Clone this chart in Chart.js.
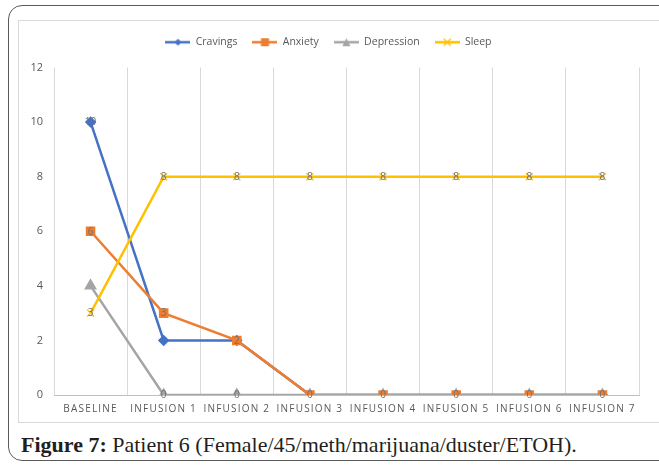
<!DOCTYPE html>
<html>
<head>
<meta charset="utf-8">
<script src="https://cdn.jsdelivr.net/npm/chart.js@4/dist/chart.umd.min.js"></script>
<style>
  html, body { margin:0; padding:0; width:659px; height:470px; overflow:hidden; background:#fff; }
  #frame { position:absolute; left:8px; top:5px; width:720px; height:454px; border:1px solid #5a5a5a; border-radius:14px; }
  #box { position:absolute; left:18px; top:20px; width:700px; height:403px; border:1px solid #d9d9d9; box-sizing:border-box; }
  #wrap { position:absolute; left:18px; top:20px; width:641px; height:403px; }
  #caption { position:absolute; left:21px; top:432px; font-family:"Liberation Serif", serif; font-size:22px; line-height:26px; color:#231f20; white-space:nowrap; }
  #caption b { font-weight:bold; }
</style>
</head>
<body>
<div id="frame"></div>
<div id="box"></div>
<div id="wrap"><canvas id="c" width="641" height="403"></canvas></div>
<div id="caption"><b>Figure 7:</b> Patient 6 (Female/45/meth/marijuana/duster/ETOH).</div>
<script>
const categories = ['BASELINE','INFUSION 1','INFUSION 2','INFUSION 3','INFUSION 4','INFUSION 5','INFUSION 6','INFUSION 7'];
const cravings   = [10, 2, 2, 0, 0, 0, 0, 0];
const anxiety    = [6, 3, 2, 0, 0, 0, 0, 0];
const depression = [4, 0, 0, 0, 0, 0, 0, 0];
const sleep      = [3, 8, 8, 8, 8, 8, 8, 8];
const yTicks     = [0, 2, 4, 6, 8, 10, 12];
// which points carry a value label in the reference
const labelIdx = { Cravings:[0], Anxiety:[0,1,2,3,4,5,6,7], Depression:[1,2], Sleep:[0,1,2,3,4,5,6,7] };

const C_BLUE='#4472C4', C_ORANGE='#ED7D31', C_GRAY='#A5A5A5', C_YELLOW='#FFC000';

function legendIcon(color, style){
  const cv=document.createElement('canvas'); cv.width=25; cv.height=10;
  const g=cv.getContext('2d');
  g.strokeStyle=color; g.lineWidth=2.5; g.beginPath(); g.moveTo(0,5); g.lineTo(25,5); g.stroke();
  g.fillStyle=color;
  const m=12.5;
  if(style==='diamond'){ g.beginPath(); g.moveTo(m,1.5); g.lineTo(m+3.5,5); g.lineTo(m,8.5); g.lineTo(m-3.5,5); g.closePath(); g.fill(); }
  else if(style==='square'){ g.fillRect(m-4,1,8,8); }
  else if(style==='triangle'){ g.beginPath(); g.moveTo(m,1); g.lineTo(m+4,9); g.lineTo(m-4,9); g.closePath(); g.fill(); }
  else if(style==='x'){ g.lineWidth=1.2; g.beginPath(); g.moveTo(m-3.5,1.5); g.lineTo(m+3.5,8.5); g.moveTo(m+3.5,1.5); g.lineTo(m-3.5,8.5); g.stroke(); }
  return cv;
}

const valueLabels = {
  id:'valueLabels',
  afterDatasetsDraw(chart){
    const ctx=chart.ctx;
    ctx.save();
    ctx.font='10px "Open Sans", sans-serif';
    ctx.fillStyle='#707070';
    ctx.textAlign='center'; ctx.textBaseline='middle';
    chart.data.datasets.forEach((ds,di)=>{
      const idx=labelIdx[ds.label]; if(!idx) return;
      const meta=chart.getDatasetMeta(di);
      idx.forEach(i=>{ const p=meta.data[i]; if(p) ctx.fillText(String(ds.data[i]), p.x, p.y+0.5); });
    });
    ctx.restore();
  }
};
const spacedX = {
  id:'spacedX',
  beforeDraw(chart){
    const xs=chart.scales.x;
    if(xs && !xs._spaced){
      const orig=xs.drawLabels.bind(xs);
      xs.drawLabels=function(area){ const ctx=chart.ctx; ctx.save(); ctx.letterSpacing='1.2px'; orig(area); ctx.restore(); };
      xs._spaced=true;
    }
  }
};
const legendShift = {
  id:'legendShift',
  afterLayout(chart){
    const lg=chart.legend; if(!lg) return;
    lg.top-=10; lg.bottom-=10;
  }
};

new Chart(document.getElementById('c'), {
  type:'line',
  data:{
    labels:categories,
    datasets:[
      {label:'Cravings', data:cravings, borderColor:C_BLUE, backgroundColor:C_BLUE, pointStyle:'rectRot', pointRadius:4, borderWidth:2.5, order:4, icon:legendIcon(C_BLUE,'diamond')},
      {label:'Anxiety', data:anxiety, borderColor:C_ORANGE, backgroundColor:C_ORANGE, pointStyle:'rect', pointRadius:5, borderWidth:2.5, order:3, icon:legendIcon(C_ORANGE,'square')},
      {label:'Depression', data:depression, borderColor:C_GRAY, backgroundColor:C_GRAY, pointStyle:'triangle', pointRadius:5, borderWidth:2.5, order:2, icon:legendIcon(C_GRAY,'triangle')},
      {label:'Sleep', data:sleep, borderColor:C_YELLOW, backgroundColor:C_YELLOW, pointStyle:'crossRot', pointRadius:5, pointBorderWidth:1.3, borderWidth:2.5, order:1, icon:legendIcon(C_YELLOW,'x')},
      {label:'_anxMarkers', data:anxiety, showLine:false, borderColor:C_ORANGE, backgroundColor:C_ORANGE, pointStyle:'rect', pointRadius:5, order:0}
    ]
  },
  options:{
    responsive:false, animation:false,
    layout:{padding:{top:12, left:0, right:20, bottom:0}},
    plugins:{
      tooltip:{enabled:false},
      legend:{
        position:'top',
        labels:{
          filter:(item)=>!item.text.startsWith('_'),
          usePointStyle:true, pointStyleWidth:25, padding:15,
          color:'#595959', font:{size:10.5, family:'"Open Sans", sans-serif'},
          generateLabels(chart){
            return chart.data.datasets.map((ds,i)=>({text:ds.label, pointStyle:ds.icon, fillStyle:ds.borderColor, strokeStyle:ds.borderColor, lineWidth:0, datasetIndex:i, hidden:false, fontColor:'#595959'}));
          }
        }
      }
    },
    scales:{
      x:{
        offset:true,
        grid:{offset:true, display:true, color:'#d9d9d9', lineWidth:1, drawTicks:false},
        border:{display:true, color:'#bfbfbf', width:1},
        ticks:{color:'#595959', font:{size:10, family:'"Open Sans", sans-serif'}, maxRotation:0, autoSkip:false, padding:8}
      },
      y:{
        min:0, max:12,
        afterBuildTicks(s){ s.ticks=yTicks.map(v=>({value:v})); },
        afterFit(s){ s.width=36; },
        grid:{display:false, drawTicks:false},
        border:{display:false},
        ticks:{color:'#595959', font:{size:11, family:'"Open Sans", sans-serif'}, padding:11}
      }
    }
  },
  plugins:[valueLabels, spacedX, legendShift]
});
</script>
</body>
</html>
